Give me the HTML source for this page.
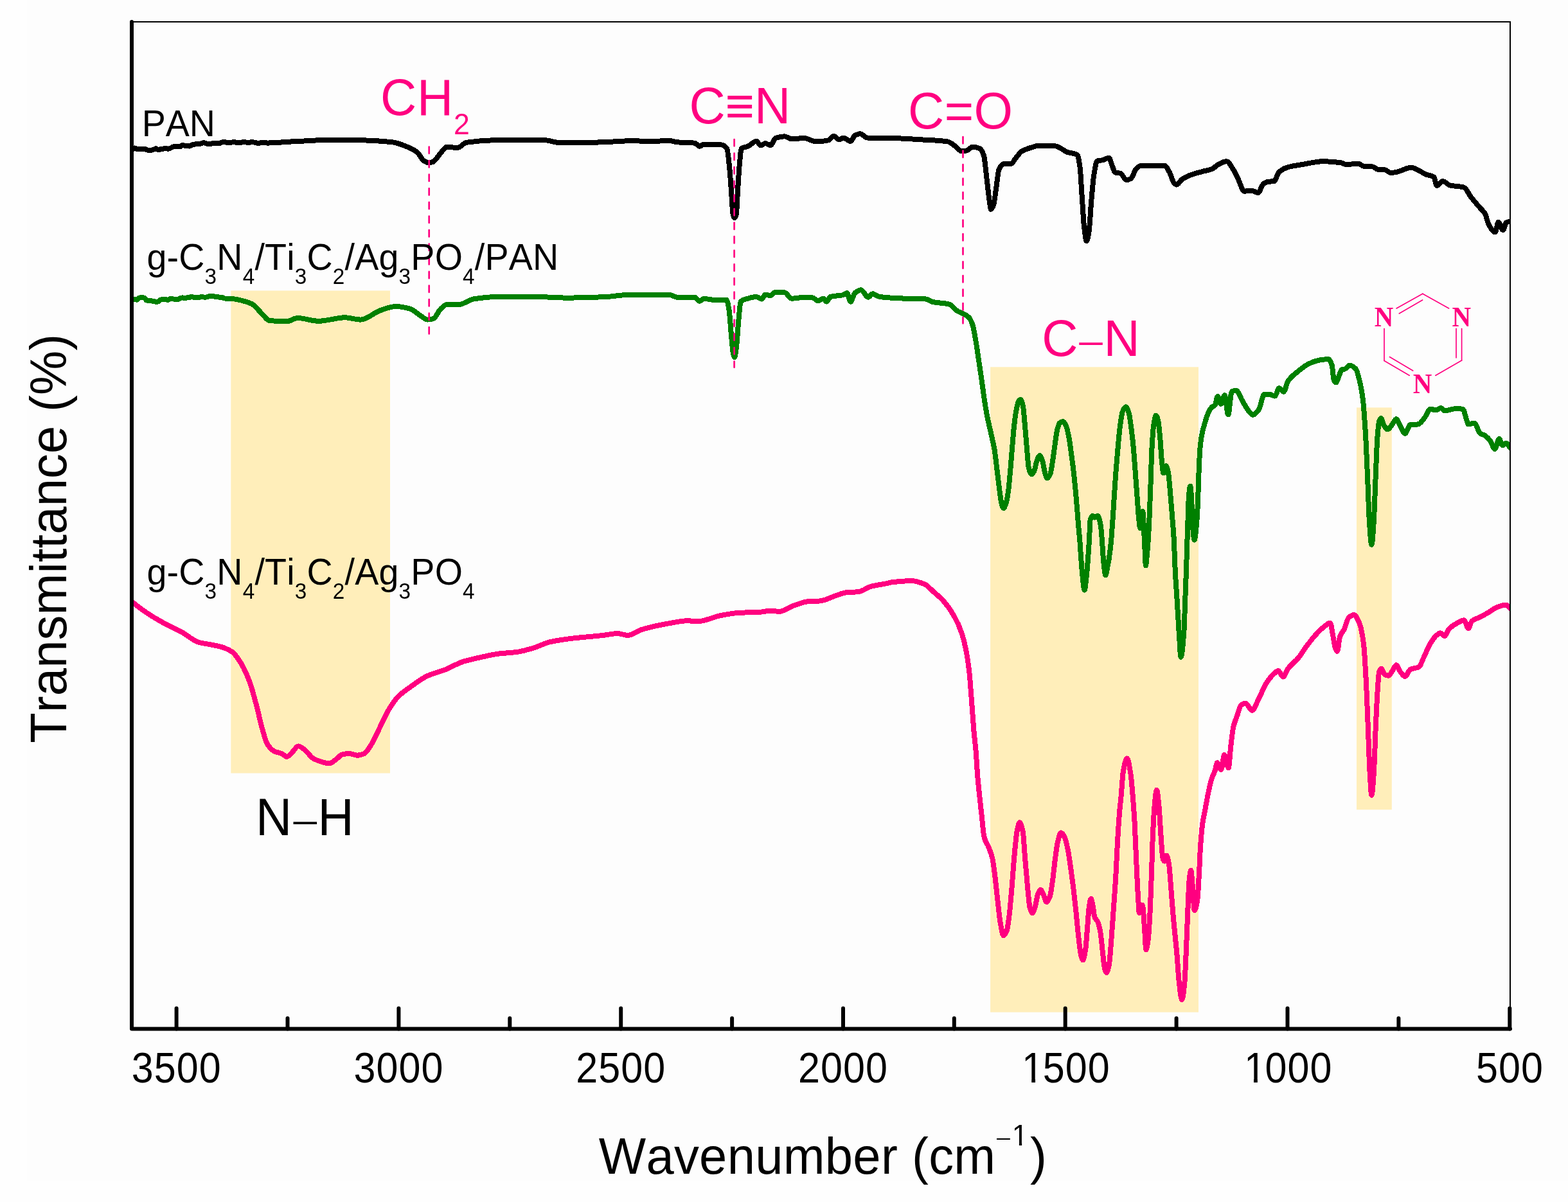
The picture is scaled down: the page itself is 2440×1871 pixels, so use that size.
<!DOCTYPE html>
<html lang="en">
<head>
<meta charset="utf-8">
<title>FTIR spectra</title>
<style>
html,body{margin:0;padding:0;background:#fefefe;}
body{width:2440px;height:1871px;overflow:hidden;}
svg{display:block;}
text{font-family:"Liberation Sans",Arial,Helvetica,sans-serif;font-kerning:none;font-variant-ligatures:none;white-space:pre;}
.ser{font-family:"Liberation Serif","Times New Roman",serif;font-weight:bold;}
.dash{font-family:"Liberation Serif","Times New Roman",serif;}
</style>
</head>
<body>
<svg width="2440" height="1871" viewBox="0 0 2440 1871" role="img" aria-label="FTIR transmittance spectra of PAN, g-C3N4/Ti3C2/Ag3PO4/PAN and g-C3N4/Ti3C2/Ag3PO4">
<rect x="0" y="0" width="2440" height="1871" fill="#fefefe"/>
<rect x="42" y="0" width="2398" height="1838" fill="#fdfdfd"/>
<g id="bands" fill="#ffeeba">
<rect x="359.3" y="452.4" width="247.7" height="751.1"/>
<rect x="1541.1" y="571.3" width="323.9" height="1004.3"/>
<rect x="2111.0" y="634.4" width="54.8" height="625.9"/>
</g>
<clipPath id="plot"><rect x="204" y="30" width="2147" height="1575"/></clipPath>
<g id="curves" clip-path="url(#plot)" fill="none" stroke-width="8.0" stroke-linejoin="round" stroke-linecap="butt" shape-rendering="crispEdges">
<path stroke="#000000" d="M205.5 233.4C205.7 233.3 205.8 233.2 206.0 233.1C207.2 232.4 208.5 230.4 209.7 230.4C210.9 230.4 212.2 232.2 213.4 232.2C214.6 232.2 215.9 232.2 217.1 232.2C218.3 232.2 219.6 232.5 220.8 232.5C222.0 232.5 223.3 231.7 224.5 231.7C225.7 231.7 227.0 232.4 228.2 232.9C229.4 233.3 230.7 234.5 231.9 234.5C233.1 234.5 234.4 234.2 235.6 233.9C236.8 233.7 238.1 233.0 239.3 232.5C240.5 232.1 241.8 231.3 243.0 231.3C244.2 231.3 245.5 233.3 246.7 233.3C247.9 233.3 249.2 232.2 250.4 232.0C251.6 231.8 252.9 231.8 254.1 231.6C255.3 231.4 256.6 230.5 257.8 230.5C259.0 230.5 260.3 231.7 261.5 231.7C262.7 231.7 264.0 231.1 265.2 230.7C266.4 230.3 267.7 229.1 268.9 228.7C270.1 228.3 271.4 227.9 272.6 227.8C273.8 227.7 275.1 227.7 276.3 227.7C277.5 227.7 278.8 228.3 280.0 228.3C281.2 228.3 282.5 226.2 283.7 226.2C284.9 226.2 286.2 226.6 287.4 226.6C288.6 226.6 289.9 226.6 291.1 226.6C292.3 226.6 293.6 227.6 294.8 227.6C296.0 227.6 297.3 226.0 298.5 225.6C299.7 225.2 301.0 224.8 302.2 224.7C303.4 224.5 304.7 224.4 305.9 224.4C307.1 224.3 308.4 224.3 309.6 224.2C310.8 224.1 312.1 223.8 313.3 223.4C314.5 223.1 315.8 222.1 317.0 222.1C318.2 222.1 319.5 223.3 320.7 223.4C321.9 223.6 323.2 223.6 324.4 223.7C325.6 223.8 326.9 224.1 328.1 224.1C329.3 224.1 330.6 222.5 331.8 222.5C333.0 222.5 334.3 223.2 335.5 223.2C336.7 223.2 338.0 223.2 339.2 223.1C340.4 223.0 341.7 222.9 342.9 222.6C344.1 222.4 345.4 221.3 346.6 221.2C347.8 221.1 349.1 221.1 350.3 221.1C351.5 221.1 352.8 222.1 354.0 222.1C355.2 222.1 356.5 221.7 357.7 221.6C358.9 221.5 360.2 221.5 361.4 221.5C362.6 221.4 363.9 221.0 365.1 221.0C366.3 221.0 367.6 222.5 368.8 222.5C370.0 222.5 371.3 222.1 372.5 222.0C373.7 221.8 375.0 221.7 376.2 221.6C377.4 221.4 378.7 220.9 379.9 220.9C381.1 220.9 382.4 221.6 383.6 221.6C384.8 221.7 386.1 221.8 387.3 221.8C388.5 221.8 389.8 221.3 391.0 221.3C392.2 221.3 393.5 221.4 394.7 221.5C395.9 221.7 397.2 221.8 398.4 222.1C399.6 222.3 400.9 223.1 402.1 223.1C403.3 223.1 404.6 222.2 405.8 222.2C407.0 222.2 408.3 222.3 409.5 222.3C410.7 222.3 412.0 222.1 413.2 222.1C414.4 222.1 415.7 222.8 416.9 222.8C418.1 222.8 419.4 222.1 420.6 221.9C421.8 221.7 423.1 221.5 424.3 221.5C425.5 221.5 426.8 221.6 428.0 221.7C429.2 221.8 430.5 222.0 431.7 222.0C432.9 222.0 434.2 222.0 435.4 222.0C436.6 221.9 437.9 221.2 439.1 221.2C440.3 221.2 441.6 221.5 442.8 221.5C444.0 221.5 445.3 221.4 446.5 221.3C447.7 221.2 449.0 221.2 450.2 221.2C451.4 221.1 452.7 220.1 453.9 220.1C455.1 220.1 456.4 220.2 457.6 220.2C458.8 220.2 460.1 220.2 461.3 220.2C462.5 220.2 463.8 220.2 465.0 220.2C466.2 220.1 467.5 219.9 468.7 219.8C479.5 219.0 490.4 218.3 501.2 218.3C519.5 218.3 537.7 218.3 556.0 218.3C574.2 218.3 592.5 219.4 610.7 221.3C618.0 222.1 625.3 225.2 632.6 228.1C638.1 230.3 643.5 232.7 649.0 236.9C652.7 239.7 656.3 248.5 660.0 250.6C662.3 251.9 664.6 253.3 666.9 253.3C669.2 253.3 671.4 252.7 673.7 252.0C677.4 250.9 681.0 243.5 684.7 239.6C688.3 235.7 692.0 228.7 695.6 228.7C701.1 228.7 706.5 230.0 712.0 230.0C716.6 230.0 721.1 222.5 725.7 221.8C742.1 219.4 758.6 218.3 775.0 218.3C783.3 218.3 791.7 218.3 800.0 218.3C816.2 218.3 832.3 218.3 848.5 218.3C854.9 218.3 861.2 221.5 867.6 221.8C876.7 222.2 885.9 222.4 895.0 222.4C911.4 222.4 927.9 221.6 944.3 221.0C958.0 220.5 971.7 219.1 985.4 219.1C994.5 219.1 1003.7 220.5 1012.8 220.5C1021.9 220.5 1030.9 218.6 1040.0 218.6C1044.6 218.6 1049.2 220.9 1053.8 221.3C1062.9 222.1 1072.1 221.7 1081.2 222.7C1083.8 223.0 1086.3 227.9 1088.9 227.9C1090.9 227.9 1092.9 224.6 1094.9 224.6C1104.0 224.6 1113.2 224.8 1122.3 225.4C1125.3 225.6 1128.2 227.3 1131.2 231.4C1132.6 233.4 1134.1 250.0 1135.5 264.3C1136.5 274.3 1137.5 291.6 1138.5 305.4C1139.2 314.6 1139.8 330.3 1140.5 333.0C1141.4 336.5 1142.2 339.0 1143.1 339.0C1144.0 339.0 1144.9 336.6 1145.8 333.0C1146.6 329.7 1147.5 304.4 1148.3 291.7C1149.2 277.9 1150.1 262.5 1151.0 253.3C1151.9 243.7 1152.9 231.5 1153.8 230.9C1157.0 228.7 1160.2 229.3 1163.4 228.1C1167.9 226.3 1172.5 219.7 1177.0 219.7C1179.3 219.7 1181.6 226.5 1183.9 226.5C1186.2 226.5 1188.4 223.2 1190.7 223.2C1193.5 223.2 1196.2 226.0 1199.0 226.0C1201.7 226.0 1204.3 216.0 1207.0 215.0C1211.6 213.3 1216.3 212.3 1220.9 212.3C1224.5 212.3 1228.2 216.4 1231.8 216.4C1238.2 216.4 1244.6 215.0 1251.0 215.0C1257.3 215.0 1263.7 220.5 1270.0 220.5C1276.4 220.5 1282.9 219.7 1289.3 218.3C1292.0 217.7 1294.8 211.7 1297.5 211.7C1300.2 211.7 1303.0 217.2 1305.7 217.2C1308.0 217.2 1310.3 214.5 1312.6 214.5C1316.2 214.5 1319.9 219.9 1323.5 219.9C1325.8 219.9 1328.1 212.1 1330.4 210.9C1333.1 209.4 1335.9 208.2 1338.6 208.2C1342.3 208.2 1345.9 214.5 1349.6 214.5C1359.7 214.5 1369.9 214.5 1380.0 214.5C1387.9 214.5 1395.9 215.2 1403.8 215.6C1412.9 216.1 1422.1 216.6 1431.2 217.2C1445.8 218.2 1460.4 218.2 1475.0 220.5C1478.7 221.1 1482.3 224.8 1486.0 227.3C1489.6 229.8 1493.3 235.5 1496.9 235.5C1499.6 235.5 1502.3 234.9 1505.0 234.2C1507.8 233.5 1510.5 228.7 1513.3 228.7C1517.0 228.7 1520.6 229.5 1524.3 230.9C1526.5 231.8 1528.8 235.8 1531.0 242.4C1532.4 246.5 1533.8 263.8 1535.2 275.2C1536.6 286.6 1538.0 301.3 1539.4 310.8C1540.3 316.7 1541.1 325.9 1542.0 325.9C1543.4 325.9 1544.8 322.7 1546.2 319.0C1547.6 315.4 1548.9 300.8 1550.3 291.7C1551.7 282.6 1553.0 267.5 1554.4 264.3C1556.7 259.0 1559.0 255.5 1561.3 255.3C1565.4 254.9 1569.5 255.1 1573.6 254.7C1575.9 254.5 1578.1 249.2 1580.4 246.5C1583.6 242.7 1586.8 237.5 1590.0 235.5C1594.6 232.7 1599.1 231.4 1603.7 230.0C1608.3 228.6 1612.8 226.5 1617.4 226.5C1625.6 226.5 1633.8 226.8 1642.0 227.3C1648.4 227.7 1654.8 234.7 1661.2 236.9C1666.2 238.7 1671.3 237.9 1676.3 241.0C1677.7 241.8 1679.0 249.5 1680.4 258.8C1681.5 266.2 1682.6 289.9 1683.7 305.4C1684.9 321.9 1686.0 345.2 1687.2 354.7C1688.4 364.5 1689.6 375.2 1690.8 375.2C1692.1 375.2 1693.3 367.8 1694.6 360.1C1695.8 352.8 1697.0 327.2 1698.2 313.6C1699.6 298.1 1700.9 281.0 1702.3 272.5C1703.9 262.3 1705.6 251.2 1707.2 250.6C1710.1 249.6 1713.1 249.8 1716.0 249.2C1719.2 248.5 1722.4 245.7 1725.6 245.7C1727.4 245.7 1729.2 254.5 1731.0 258.8C1732.4 262.1 1733.7 267.9 1735.1 268.4C1737.9 269.4 1740.6 269.0 1743.4 269.8C1746.6 270.7 1749.8 280.2 1753.0 280.2C1755.3 280.2 1757.5 279.2 1759.8 278.0C1762.5 276.5 1765.3 265.6 1768.0 262.9C1770.7 260.2 1773.5 257.5 1776.2 257.5C1788.1 257.5 1799.9 257.5 1811.8 257.5C1814.5 257.5 1817.3 263.7 1820.0 268.4C1822.3 272.4 1824.6 282.5 1826.9 284.8C1828.3 286.2 1829.6 287.6 1831.0 287.6C1833.7 287.6 1836.5 281.3 1839.2 279.4C1844.9 275.5 1850.7 273.1 1856.4 271.1C1861.9 269.2 1867.4 268.0 1872.9 266.5C1877.4 265.3 1882.0 264.8 1886.5 262.9C1889.3 261.8 1892.0 258.1 1894.8 256.6C1899.4 254.2 1903.9 251.2 1908.5 251.2C1912.1 251.2 1915.8 258.8 1919.4 264.3C1922.1 268.5 1924.9 275.1 1927.6 280.7C1930.3 286.3 1933.1 297.7 1935.8 297.7C1939.5 297.7 1943.1 296.6 1946.8 296.6C1950.4 296.6 1954.1 299.9 1957.7 299.9C1960.5 299.9 1963.2 288.2 1966.0 286.2C1968.3 284.5 1970.5 283.2 1972.8 282.9C1976.0 282.4 1979.2 282.6 1982.4 282.1C1985.1 281.7 1987.9 270.0 1990.6 267.6C1995.2 263.6 1999.7 261.5 2004.3 260.2C2011.6 258.1 2018.9 257.3 2026.2 256.1C2037.1 254.3 2048.1 251.2 2059.0 251.2C2068.1 251.2 2077.3 252.0 2086.4 253.3C2089.2 253.7 2091.9 256.1 2094.7 256.1C2101.1 256.1 2107.4 254.7 2113.8 254.7C2116.5 254.7 2119.3 258.6 2122.0 258.8C2126.6 259.2 2131.1 259.0 2135.7 259.4C2138.5 259.6 2141.2 263.4 2144.0 263.7C2147.6 264.1 2151.3 263.9 2154.9 264.3C2158.1 264.6 2161.3 269.0 2164.5 269.0C2167.7 269.0 2170.8 268.2 2174.0 267.6C2181.3 266.2 2188.7 260.7 2196.0 260.7C2199.7 260.7 2203.3 263.1 2207.0 264.8C2210.6 266.4 2214.3 269.5 2217.9 271.1C2222.5 273.1 2227.0 272.5 2231.6 275.8C2233.0 276.8 2234.3 289.0 2235.7 289.0C2238.9 289.0 2242.1 282.1 2245.3 282.1C2248.9 282.1 2252.6 287.5 2256.2 288.4C2263.5 290.3 2270.8 289.5 2278.1 291.7C2281.7 292.8 2285.4 302.0 2289.0 306.7C2293.6 312.6 2298.2 317.8 2302.8 323.2C2305.5 326.4 2308.3 328.0 2311.0 332.7C2312.8 335.9 2314.7 345.9 2316.5 349.2C2320.0 355.4 2323.4 361.5 2326.9 361.5C2328.4 361.5 2330.0 345.9 2331.5 345.9C2334.0 345.9 2336.4 358.2 2338.9 358.2C2340.5 358.2 2342.2 347.2 2343.8 346.4C2345.6 345.5 2347.5 345.5 2349.3 345.0C2351.3 344.5 2353.3 344.0 2355.3 343.5"/>
<path stroke="#008000" d="M205.5 466.9C205.7 466.8 205.8 466.8 206.0 466.7C207.2 466.4 208.5 466.1 209.7 466.1C210.9 466.1 212.2 466.7 213.4 466.7C214.6 466.7 215.9 463.6 217.1 463.5C218.3 463.3 219.6 463.2 220.8 463.2C222.0 463.2 223.3 463.4 224.5 463.8C225.7 464.1 227.0 467.5 228.2 467.5C229.4 467.5 230.7 467.5 231.9 467.5C233.1 467.5 234.4 468.1 235.6 468.3C236.8 468.6 238.1 468.8 239.3 469.0C240.5 469.3 241.8 469.9 243.0 469.9C244.2 469.9 245.5 469.5 246.7 469.1C247.9 468.6 249.2 466.4 250.4 466.4C251.6 466.4 252.9 466.5 254.1 466.5C255.3 466.5 256.6 466.2 257.8 466.2C259.0 466.2 260.3 466.8 261.5 466.8C262.7 466.8 264.0 464.7 265.2 464.7C266.4 464.7 267.7 465.3 268.9 465.4C270.1 465.5 271.4 465.6 272.6 465.7C273.8 465.8 275.1 466.1 276.3 466.1C277.5 466.1 278.8 464.7 280.0 464.3C281.2 463.9 282.5 463.4 283.7 463.4C284.9 463.4 286.2 463.9 287.4 463.9C288.6 463.9 289.9 463.6 291.1 463.4C292.3 463.3 293.6 463.2 294.8 462.9C296.0 462.7 297.3 461.7 298.5 461.7C299.7 461.7 301.0 463.2 302.2 463.2C303.4 463.2 304.7 463.2 305.9 463.2C307.1 463.2 308.4 463.2 309.6 463.2C310.8 463.2 312.1 462.1 313.3 462.1C314.5 462.1 315.8 462.5 317.0 462.5C318.2 462.5 319.5 462.5 320.7 462.5C321.9 462.5 323.2 461.9 324.4 461.6C325.6 461.4 326.9 460.9 328.1 460.9C329.3 460.9 330.6 460.8 331.8 460.8C333.0 460.8 334.3 462.3 335.5 462.3C336.7 462.3 338.0 462.3 339.2 462.3C340.4 462.3 341.7 462.8 342.9 463.0C344.1 463.1 345.4 463.1 346.6 463.3C347.8 463.5 349.1 464.6 350.3 464.6C351.5 464.6 352.8 464.6 354.0 464.6C355.2 464.6 356.5 464.7 357.7 464.7C361.7 464.8 365.8 465.6 369.8 466.4C377.1 467.8 384.4 469.6 391.7 473.0C397.1 475.6 402.6 483.7 408.0 488.8C411.7 492.3 415.3 498.6 419.0 499.0C428.1 499.9 437.3 500.3 446.4 500.3C451.9 500.3 457.4 495.0 462.9 495.0C473.8 495.0 484.8 499.8 495.7 499.8C509.4 499.8 523.1 494.3 536.8 494.3C545.0 494.3 553.2 497.6 561.4 497.6C571.5 497.6 581.5 486.6 591.6 483.3C599.7 480.6 607.9 477.0 616.0 477.0C623.3 477.0 630.7 478.6 638.0 480.6C643.5 482.1 649.0 488.3 654.5 491.6C658.2 493.8 661.8 497.6 665.5 497.6C668.7 497.6 671.8 496.8 675.0 495.7C678.2 494.6 681.5 485.2 684.7 482.0C688.3 478.4 692.0 473.8 695.6 473.8C702.0 473.8 708.4 473.8 714.8 473.8C722.1 473.8 729.4 466.6 736.7 465.5C749.5 463.5 762.2 462.0 775.0 462.0C794.9 462.0 814.9 462.0 834.8 462.0C850.3 462.0 865.8 463.6 881.3 463.6C902.3 463.6 923.3 462.9 944.3 462.0C953.4 461.6 962.6 459.5 971.7 459.3C994.5 458.9 1017.2 458.7 1040.0 458.7C1045.5 458.7 1051.1 463.4 1056.6 463.4C1064.8 463.4 1073.0 462.8 1081.2 462.8C1083.8 462.8 1086.3 468.8 1088.9 468.8C1090.9 468.8 1092.9 465.0 1094.9 465.0C1102.2 465.0 1109.5 467.5 1116.8 467.5C1121.4 467.5 1125.9 466.9 1130.5 466.9C1131.9 466.9 1133.2 475.1 1134.6 483.3C1135.8 490.5 1137.0 512.0 1138.2 524.4C1139.1 533.7 1140.0 546.3 1140.9 550.0C1141.6 553.0 1142.4 556.0 1143.1 556.0C1144.1 556.0 1145.0 547.3 1146.0 540.0C1147.2 531.2 1148.3 508.9 1149.5 497.0C1150.5 486.4 1151.6 470.8 1152.6 469.7C1156.2 465.9 1159.8 465.7 1163.4 464.7C1167.9 463.4 1172.5 462.0 1177.0 462.0C1179.8 462.0 1182.5 465.6 1185.3 465.6C1187.1 465.6 1188.9 458.7 1190.7 458.7C1193.5 458.7 1196.2 460.0 1199.0 460.0C1201.7 460.0 1204.3 454.6 1207.0 454.6C1211.6 454.6 1216.3 454.8 1220.9 455.2C1224.5 455.5 1228.2 464.7 1231.8 464.7C1238.2 464.7 1244.6 462.8 1251.0 462.8C1255.6 462.8 1260.1 463.0 1264.7 463.4C1267.4 463.6 1270.2 468.3 1272.9 468.3C1275.6 468.3 1278.3 464.7 1281.0 464.7C1282.9 464.7 1284.7 469.7 1286.6 469.7C1288.4 469.7 1290.2 462.5 1292.0 462.0C1298.4 460.1 1304.8 460.8 1311.2 459.3C1313.5 458.8 1315.7 456.0 1318.0 456.0C1319.8 456.0 1321.7 469.7 1323.5 469.7C1325.8 469.7 1328.1 457.9 1330.4 456.0C1333.6 453.4 1336.8 451.3 1340.0 451.3C1343.6 451.3 1347.3 462.8 1350.9 462.8C1353.2 462.8 1355.5 457.3 1357.8 457.3C1361.4 457.3 1365.1 461.5 1368.7 462.0C1382.2 463.8 1395.8 464.2 1409.3 464.7C1420.2 465.1 1431.1 464.9 1442.0 465.6C1444.8 465.8 1447.6 469.0 1450.4 469.7C1459.5 472.0 1468.6 471.2 1477.7 473.8C1481.4 474.8 1485.0 480.7 1488.7 483.3C1495.1 487.8 1501.5 487.9 1507.9 494.3C1509.7 496.1 1511.5 500.1 1513.3 505.3C1515.1 510.6 1517.0 522.1 1518.8 532.6C1520.2 540.4 1521.5 550.9 1522.9 560.0C1524.4 570.0 1525.9 579.5 1527.4 590.0C1528.6 598.7 1529.9 609.1 1531.1 617.4C1532.6 627.5 1534.1 636.9 1535.6 644.8C1537.7 656.0 1539.9 664.3 1542.0 674.1C1543.8 682.5 1545.7 688.8 1547.5 699.6C1549.0 708.7 1550.6 723.9 1552.1 736.2C1553.3 745.8 1554.5 756.8 1555.7 765.4C1556.6 772.1 1557.6 780.4 1558.5 783.7C1559.5 787.3 1560.6 791.0 1561.6 791.0C1562.9 791.0 1564.1 787.3 1565.4 783.7C1566.7 779.9 1568.1 771.6 1569.4 761.8C1570.3 755.0 1571.3 743.0 1572.2 732.5C1573.1 722.4 1574.0 710.4 1574.9 699.6C1575.8 688.4 1576.8 675.4 1577.7 666.7C1578.9 655.5 1580.1 645.5 1581.3 639.3C1582.5 632.9 1583.8 626.4 1585.0 624.7C1586.1 623.2 1587.2 622.0 1588.3 622.0C1589.5 622.0 1590.7 626.7 1591.9 632.0C1592.9 636.6 1594.0 651.9 1595.0 663.1C1596.0 674.3 1597.1 688.2 1598.1 699.6C1599.0 709.9 1600.0 725.5 1600.9 728.9C1602.5 734.5 1604.0 738.4 1605.6 738.4C1606.9 738.4 1608.3 735.4 1609.6 732.5C1610.8 729.8 1612.1 721.1 1613.3 717.9C1614.8 713.9 1616.4 709.1 1617.9 709.1C1619.4 709.1 1620.9 713.6 1622.4 717.9C1623.6 721.4 1624.9 732.4 1626.1 736.2C1627.3 739.9 1628.5 744.4 1629.7 744.4C1631.2 744.4 1632.8 741.5 1634.3 738.0C1635.5 735.2 1636.8 725.5 1638.0 717.9C1639.2 710.5 1640.4 700.4 1641.6 692.3C1642.8 684.0 1644.1 673.4 1645.3 668.6C1646.5 663.9 1647.7 659.5 1648.9 658.5C1650.6 657.1 1652.2 656.1 1653.9 656.1C1655.6 656.1 1657.3 659.6 1659.0 663.1C1660.5 666.2 1662.0 673.7 1663.5 681.4C1664.7 687.8 1666.0 697.9 1667.2 707.0C1668.4 716.1 1669.7 725.2 1670.9 736.2C1672.1 746.9 1673.3 759.3 1674.5 772.7C1675.7 786.4 1677.0 804.3 1678.2 818.4C1678.9 826.0 1679.5 831.7 1680.2 840.0C1680.8 847.4 1681.4 857.9 1682.0 866.0C1682.8 876.4 1683.5 887.9 1684.3 895.0C1685.4 905.2 1686.5 918.6 1687.6 918.6C1688.7 918.6 1689.8 905.0 1690.9 895.0C1691.7 887.7 1692.5 876.9 1693.3 866.0C1693.9 858.3 1694.4 849.7 1695.0 840.0C1695.5 830.9 1696.1 811.3 1696.6 809.3C1697.8 805.0 1698.9 802.9 1700.1 802.9C1701.3 802.9 1702.5 805.6 1703.7 805.6C1705.2 805.6 1706.8 802.9 1708.3 802.9C1709.8 802.9 1711.4 809.8 1712.9 818.4C1713.5 822.0 1714.2 832.2 1714.8 840.0C1715.7 850.7 1716.5 867.9 1717.4 875.7C1718.4 884.7 1719.4 895.5 1720.4 895.5C1721.4 895.5 1722.5 887.0 1723.5 882.0C1724.2 878.4 1725.0 874.7 1725.7 870.0C1726.7 863.3 1727.8 855.4 1728.8 845.0C1729.9 833.9 1731.0 815.9 1732.1 800.1C1733.3 782.9 1734.5 761.7 1735.7 745.3C1736.9 728.5 1738.2 713.3 1739.4 699.6C1740.6 686.2 1741.8 672.1 1743.0 663.1C1744.2 653.9 1745.5 644.4 1746.7 641.2C1748.3 636.9 1750.0 633.3 1751.6 633.3C1753.3 633.3 1755.0 637.9 1756.7 643.0C1757.9 646.7 1759.2 657.4 1760.4 666.7C1761.6 675.7 1762.8 686.6 1764.0 699.6C1764.9 709.7 1765.9 723.8 1766.8 736.2C1767.7 748.2 1768.6 760.7 1769.5 772.7C1770.4 785.1 1771.4 800.9 1772.3 809.3C1772.9 814.7 1773.5 822.1 1774.1 822.1C1775.4 822.1 1776.8 795.6 1778.1 795.6C1778.8 795.6 1779.6 816.9 1780.3 830.0C1780.6 835.9 1781.0 843.5 1781.3 850.0C1781.8 860.4 1782.4 880.5 1782.9 880.5C1783.7 880.5 1784.4 868.1 1785.2 860.0C1785.7 854.4 1786.3 848.1 1786.8 840.0C1787.3 831.9 1787.9 821.0 1788.4 809.3C1789.1 793.9 1789.8 773.7 1790.5 754.5C1791.1 737.1 1791.8 711.5 1792.4 699.6C1793.3 682.7 1794.2 669.3 1795.1 663.1C1796.3 654.6 1797.6 646.6 1798.8 646.6C1800.0 646.6 1801.2 650.9 1802.4 655.8C1803.3 659.6 1804.3 671.2 1805.2 681.4C1806.1 691.2 1807.0 709.2 1807.9 717.9C1808.7 725.7 1809.5 736.2 1810.3 736.2C1811.8 736.2 1813.2 725.2 1814.7 725.2C1815.8 725.2 1816.9 730.7 1818.0 736.2C1819.2 742.2 1820.4 759.3 1821.6 772.7C1822.8 786.4 1824.1 801.8 1825.3 818.4C1825.8 825.1 1826.3 831.0 1826.8 840.0C1827.4 851.5 1828.1 875.1 1828.7 887.6C1829.7 907.4 1830.7 919.0 1831.7 935.2C1832.7 950.8 1833.6 968.7 1834.6 982.9C1835.6 997.6 1836.6 1022.8 1837.6 1022.8C1839.2 1022.8 1840.8 1004.9 1842.4 982.9C1843.0 974.7 1843.6 951.1 1844.2 935.2C1844.8 919.3 1845.4 905.0 1846.0 887.6C1846.5 873.1 1847.0 855.4 1847.5 840.0C1847.8 829.7 1848.2 819.4 1848.5 810.0C1849.0 796.8 1849.4 778.0 1849.9 772.7C1850.7 763.6 1851.5 756.5 1852.3 756.5C1853.2 756.5 1854.0 776.9 1854.9 791.0C1855.5 800.8 1856.1 821.2 1856.7 827.6C1857.3 834.0 1857.9 840.5 1858.5 840.5C1859.6 840.5 1860.7 829.2 1861.8 818.4C1862.5 811.2 1863.3 798.0 1864.0 781.9C1864.5 771.0 1865.0 748.5 1865.5 736.2C1866.1 721.5 1866.7 706.8 1867.3 699.6C1868.2 688.9 1869.1 682.7 1870.0 677.7C1871.5 669.3 1873.1 664.6 1874.6 659.4C1876.4 653.1 1878.3 646.9 1880.1 643.0C1881.9 639.1 1883.8 635.7 1885.6 633.9C1887.4 632.2 1889.2 632.4 1891.0 630.2C1892.2 628.7 1893.5 617.0 1894.7 617.0C1896.4 617.0 1898.0 628.9 1899.7 628.9C1901.7 628.9 1903.7 615.2 1905.7 615.2C1907.5 615.2 1909.4 645.4 1911.2 645.4C1913.0 645.4 1914.9 611.0 1916.7 609.8C1919.0 608.4 1921.2 607.6 1923.5 607.6C1926.7 607.6 1929.9 618.2 1933.1 623.5C1935.8 628.0 1938.6 633.7 1941.3 637.2C1944.0 640.7 1946.8 645.9 1949.5 645.9C1952.7 645.9 1955.9 641.7 1959.1 637.2C1961.8 633.4 1964.6 613.9 1967.3 613.9C1970.0 613.9 1972.8 613.9 1975.5 613.9C1978.3 613.9 1981.0 616.6 1983.8 616.6C1986.1 616.6 1988.3 604.3 1990.6 604.3C1992.9 604.3 1995.2 609.8 1997.5 609.8C1999.8 609.8 2002.0 596.7 2004.3 593.3C2008.9 586.5 2013.4 583.4 2018.0 579.6C2024.4 574.2 2030.8 568.9 2037.2 566.0C2042.7 563.5 2048.1 561.3 2053.6 560.5C2058.2 559.8 2062.7 559.1 2067.3 559.1C2069.1 559.1 2071.0 563.0 2072.8 568.7C2073.7 571.5 2074.6 588.3 2075.5 590.6C2076.6 593.4 2077.7 595.5 2078.8 595.5C2080.4 595.5 2082.1 588.7 2083.7 585.1C2085.1 582.1 2086.4 576.1 2087.8 575.5C2089.6 574.7 2091.5 574.9 2093.3 574.2C2095.6 573.4 2097.8 568.7 2100.1 568.7C2103.3 568.7 2106.5 570.9 2109.7 574.2C2111.5 576.1 2113.4 583.5 2115.2 590.6C2117.0 597.7 2118.9 606.4 2120.7 620.7C2122.1 631.4 2123.4 650.8 2124.8 672.8C2125.9 690.0 2126.9 716.8 2128.0 741.2C2128.9 762.5 2129.9 795.6 2130.8 809.7C2132.0 827.8 2133.2 848.0 2134.4 848.0C2135.6 848.0 2136.7 827.6 2137.9 809.7C2138.8 795.4 2139.8 763.0 2140.7 741.2C2141.6 720.2 2142.5 692.7 2143.4 681.0C2144.3 669.3 2145.2 659.2 2146.1 656.3C2147.0 653.3 2148.0 650.8 2148.9 650.8C2150.4 650.8 2152.0 659.3 2153.5 661.8C2155.3 664.8 2157.2 668.6 2159.0 668.6C2161.3 668.6 2163.5 664.4 2165.8 661.8C2168.1 659.1 2170.4 652.2 2172.7 652.2C2174.5 652.2 2176.4 658.8 2178.2 661.8C2180.9 666.3 2183.7 674.7 2186.4 674.7C2189.1 674.7 2191.9 661.6 2194.6 661.2C2198.7 660.7 2202.8 660.9 2206.9 660.4C2210.1 660.0 2213.3 654.6 2216.5 650.8C2219.7 647.0 2222.9 636.6 2226.1 636.6C2228.8 636.6 2231.6 638.5 2234.3 638.5C2236.9 638.5 2239.4 635.0 2242.0 635.0C2244.0 635.0 2246.0 639.3 2248.0 639.3C2254.4 639.3 2260.8 635.8 2267.2 635.8C2270.4 635.8 2273.5 636.2 2276.7 637.2C2278.3 637.7 2279.8 646.5 2281.4 650.8C2282.6 654.1 2283.8 660.4 2285.0 660.4C2288.2 660.4 2291.3 658.5 2294.5 658.5C2297.3 658.5 2300.0 671.9 2302.8 674.1C2305.5 676.3 2308.3 676.4 2311.0 678.2C2313.7 680.0 2316.5 682.8 2319.2 686.4C2321.5 689.4 2323.7 698.8 2326.0 698.8C2328.3 698.8 2330.6 683.2 2332.9 683.2C2334.7 683.2 2336.6 693.3 2338.4 693.3C2340.2 693.3 2342.0 689.7 2343.8 689.7C2345.6 689.7 2347.5 693.9 2349.3 696.0C2351.3 698.3 2353.3 700.6 2355.3 702.9"/>
<path stroke="#ff0080" d="M205.5 936.9C212.8 942.4 220.1 948.4 227.4 953.3C236.5 959.4 245.7 964.8 254.8 969.8C263.9 974.8 273.0 978.5 282.1 983.5C291.2 988.5 300.4 997.3 309.5 999.9C316.8 1001.9 324.1 1002.4 331.4 1004.0C336.9 1005.2 342.4 1006.3 347.9 1008.1C352.5 1009.6 357.0 1011.7 361.6 1015.0C366.1 1018.3 370.7 1025.3 375.2 1032.7C379.8 1040.2 384.4 1050.4 389.0 1062.9C392.6 1072.8 396.3 1087.5 399.9 1101.2C402.6 1111.4 405.3 1124.7 408.0 1134.0C410.8 1143.5 413.5 1154.5 416.3 1158.7C420.0 1164.3 423.6 1168.0 427.3 1169.7C430.9 1171.4 434.6 1171.5 438.2 1173.0C440.9 1174.1 443.7 1177.9 446.4 1177.9C449.2 1177.9 451.9 1173.5 454.7 1171.0C457.9 1168.1 461.0 1161.4 464.2 1161.4C467.4 1161.4 470.6 1164.6 473.8 1166.9C478.4 1170.2 482.9 1178.0 487.5 1180.6C492.1 1183.2 496.6 1184.9 501.2 1186.1C504.9 1187.1 508.5 1188.3 512.2 1188.3C515.8 1188.3 519.5 1184.4 523.1 1182.0C526.3 1179.8 529.5 1175.0 532.7 1174.3C536.4 1173.5 540.0 1173.0 543.7 1173.0C547.8 1173.0 551.9 1175.7 556.0 1175.7C559.6 1175.7 563.3 1174.5 566.9 1173.0C570.6 1171.5 574.2 1164.4 577.9 1158.7C582.5 1151.6 587.0 1140.4 591.6 1131.3C596.2 1122.2 600.7 1111.5 605.3 1104.0C609.9 1096.5 614.4 1089.5 619.0 1084.8C625.4 1078.3 631.7 1074.3 638.1 1069.7C647.2 1063.1 656.4 1056.1 665.5 1051.9C674.6 1047.7 683.8 1045.9 692.9 1042.3C702.0 1038.7 711.2 1032.9 720.3 1030.0C729.4 1027.1 738.6 1025.2 747.7 1023.2C756.8 1021.2 765.9 1018.9 775.0 1017.7C784.9 1016.4 794.7 1016.3 804.6 1014.9C812.8 1013.8 821.1 1011.3 829.3 1008.9C838.4 1006.3 847.6 1001.0 856.7 999.0C867.6 996.6 878.6 995.2 889.5 993.8C905.9 991.8 922.4 990.8 938.8 988.9C946.1 988.1 953.4 986.1 960.7 986.1C966.2 986.1 971.7 988.9 977.2 988.9C984.5 988.9 991.7 982.0 999.0 979.8C1012.7 975.7 1026.3 972.9 1040.0 970.5C1050.1 968.8 1060.2 966.2 1070.3 966.2C1074.9 966.2 1079.4 967.5 1084.0 967.5C1096.8 967.5 1109.5 960.3 1122.3 957.9C1130.5 956.4 1138.7 954.7 1146.9 954.1C1159.7 953.2 1172.5 953.4 1185.3 952.5C1189.9 952.2 1194.4 950.5 1199.0 950.5C1203.5 950.5 1208.1 951.9 1212.6 951.9C1219.9 951.9 1227.3 945.3 1234.6 942.9C1242.8 940.2 1251.0 936.4 1259.2 936.0C1264.7 935.7 1270.1 935.8 1275.6 935.5C1283.8 935.1 1292.1 929.9 1300.3 927.3C1305.8 925.6 1311.2 922.8 1316.7 922.3C1323.1 921.7 1329.5 921.8 1335.9 921.2C1342.3 920.6 1348.6 914.7 1355.0 913.0C1363.3 910.7 1371.7 909.9 1380.0 908.1C1382.5 907.6 1384.9 906.7 1387.4 906.4C1397.9 905.1 1408.4 904.2 1418.9 904.2C1425.7 904.2 1432.6 906.8 1439.4 909.7C1443.6 911.5 1447.8 916.8 1452.0 920.5C1457.5 925.4 1463.1 929.7 1468.6 936.0C1473.9 942.0 1479.3 949.4 1484.6 958.8C1488.4 965.5 1492.2 973.0 1496.0 984.0C1498.7 991.7 1501.3 1002.0 1504.0 1016.0C1505.5 1023.9 1507.0 1034.3 1508.5 1048.0C1509.7 1058.7 1510.8 1076.3 1512.0 1091.4C1513.1 1106.0 1514.3 1124.0 1515.4 1137.1C1516.5 1150.2 1517.7 1157.6 1518.8 1171.4C1519.6 1180.7 1520.3 1196.2 1521.1 1205.7C1522.2 1219.3 1523.3 1229.4 1524.4 1240.0C1525.5 1250.3 1526.5 1259.5 1527.6 1269.0C1528.9 1280.6 1530.2 1298.1 1531.5 1303.0C1533.8 1311.7 1536.1 1312.6 1538.4 1318.5C1540.4 1323.7 1542.4 1327.9 1544.4 1336.6C1545.7 1342.4 1547.1 1354.1 1548.4 1364.7C1549.7 1375.3 1551.1 1389.4 1552.4 1401.0C1553.8 1412.9 1555.1 1427.5 1556.5 1435.2C1558.2 1444.6 1559.8 1456.3 1561.5 1456.3C1563.2 1456.3 1564.8 1453.2 1566.5 1449.3C1567.8 1446.2 1569.2 1435.4 1570.5 1425.1C1571.9 1414.5 1573.2 1396.7 1574.6 1380.8C1575.9 1365.3 1577.3 1344.5 1578.6 1330.5C1579.9 1316.5 1581.3 1301.1 1582.6 1294.3C1583.9 1287.5 1585.3 1280.2 1586.6 1280.2C1588.3 1280.2 1590.0 1286.2 1591.7 1294.3C1592.7 1299.1 1593.7 1318.7 1594.7 1330.5C1596.0 1346.3 1597.4 1363.3 1598.7 1376.8C1600.0 1390.3 1601.4 1408.3 1602.7 1413.0C1603.9 1417.3 1605.2 1421.1 1606.4 1421.1C1607.9 1421.1 1609.3 1415.5 1610.8 1411.0C1612.1 1406.9 1613.5 1396.4 1614.8 1392.9C1616.3 1389.1 1617.7 1384.9 1619.2 1384.9C1620.8 1384.9 1622.3 1389.8 1623.9 1392.9C1625.4 1396.0 1627.0 1404.0 1628.5 1404.0C1630.3 1404.0 1632.1 1399.7 1633.9 1394.9C1635.3 1391.2 1636.6 1380.3 1638.0 1370.8C1639.3 1361.5 1640.7 1346.5 1642.0 1336.6C1643.3 1326.7 1644.7 1315.7 1646.0 1310.4C1647.7 1303.7 1649.3 1296.3 1651.0 1296.3C1653.0 1296.3 1655.1 1300.3 1657.1 1304.4C1658.8 1307.8 1660.4 1316.1 1662.1 1324.5C1663.4 1331.2 1664.8 1341.4 1666.1 1350.7C1667.4 1360.0 1668.8 1370.0 1670.1 1380.8C1671.5 1391.9 1672.8 1404.2 1674.2 1417.1C1675.5 1429.7 1676.9 1445.8 1678.2 1457.3C1679.5 1468.8 1680.9 1482.9 1682.2 1487.5C1683.2 1491.0 1684.2 1494.5 1685.2 1494.5C1686.6 1494.5 1687.9 1486.1 1689.3 1477.4C1690.3 1471.0 1691.3 1453.0 1692.3 1441.2C1693.2 1430.9 1694.0 1416.5 1694.9 1411.0C1695.8 1405.1 1696.8 1398.9 1697.7 1398.9C1698.8 1398.9 1699.8 1405.8 1700.9 1411.0C1701.7 1414.9 1702.5 1424.9 1703.3 1427.1C1705.0 1431.8 1706.7 1431.3 1708.4 1435.2C1709.7 1438.3 1711.1 1443.8 1712.4 1451.3C1713.5 1457.6 1714.7 1471.8 1715.8 1481.4C1716.9 1490.5 1717.9 1503.9 1719.0 1507.6C1720.0 1510.9 1720.9 1514.0 1721.9 1514.0C1723.2 1514.0 1724.6 1508.1 1725.9 1501.6C1727.1 1495.7 1728.3 1476.2 1729.5 1461.3C1730.7 1446.4 1731.9 1428.3 1733.1 1411.0C1734.2 1394.7 1735.4 1380.0 1736.5 1360.7C1737.4 1345.3 1738.3 1322.2 1739.2 1307.0C1740.2 1289.6 1741.3 1274.1 1742.3 1262.0C1743.0 1253.4 1743.8 1247.8 1744.5 1240.0C1745.7 1227.6 1746.8 1206.4 1748.0 1200.0C1749.9 1189.5 1751.8 1180.4 1753.7 1180.4C1755.6 1180.4 1757.6 1192.8 1759.5 1205.0C1760.6 1211.9 1761.7 1226.6 1762.8 1240.0C1763.7 1251.4 1764.7 1263.7 1765.6 1280.0C1766.6 1298.1 1767.7 1329.1 1768.7 1350.7C1769.6 1368.8 1770.4 1387.5 1771.3 1401.0C1771.8 1408.8 1772.3 1421.1 1772.8 1421.1C1774.5 1421.1 1776.1 1409.0 1777.8 1409.0C1778.8 1409.0 1779.8 1428.9 1780.8 1441.2C1781.7 1451.9 1782.5 1478.4 1783.4 1478.4C1784.5 1478.4 1785.7 1470.0 1786.8 1461.3C1787.7 1454.4 1788.6 1438.0 1789.5 1421.1C1790.3 1406.1 1791.1 1382.7 1791.9 1360.7C1792.6 1342.4 1793.2 1315.3 1793.9 1300.4C1794.8 1281.0 1795.6 1264.2 1796.5 1255.0C1797.6 1242.9 1798.8 1229.6 1799.9 1229.6C1801.1 1229.6 1802.3 1243.3 1803.5 1255.0C1804.5 1264.7 1805.5 1287.2 1806.5 1300.4C1807.5 1314.0 1808.6 1333.7 1809.6 1336.6C1810.4 1338.9 1811.2 1340.6 1812.0 1340.6C1813.0 1340.6 1814.0 1331.5 1815.0 1331.5C1816.3 1331.5 1817.7 1337.6 1819.0 1344.6C1820.0 1350.0 1821.1 1368.3 1822.1 1380.8C1823.4 1396.9 1824.8 1416.1 1826.1 1431.1C1827.8 1449.8 1829.4 1462.7 1831.1 1481.4C1832.4 1496.4 1833.8 1521.1 1835.1 1531.8C1836.5 1542.8 1837.8 1555.9 1839.2 1555.9C1840.5 1555.9 1841.9 1544.5 1843.2 1531.8C1844.1 1523.5 1844.9 1500.4 1845.8 1481.4C1846.6 1463.9 1847.4 1439.4 1848.2 1421.1C1849.0 1402.8 1849.8 1378.5 1850.6 1370.8C1851.5 1362.5 1852.3 1354.7 1853.2 1354.7C1854.1 1354.7 1855.0 1370.8 1855.9 1380.8C1856.8 1391.1 1857.8 1417.1 1858.7 1417.1C1860.2 1417.1 1861.8 1410.3 1863.3 1401.0C1864.2 1395.7 1865.0 1376.0 1865.9 1360.7C1866.6 1349.0 1867.2 1330.4 1867.9 1320.5C1869.0 1303.7 1870.2 1290.3 1871.3 1282.0C1872.5 1272.9 1873.8 1268.6 1875.0 1262.0C1876.6 1253.6 1878.1 1244.5 1879.7 1237.0C1881.5 1228.2 1883.4 1219.0 1885.2 1213.2C1887.0 1207.4 1888.9 1204.9 1890.7 1199.5C1891.9 1196.1 1893.0 1187.2 1894.2 1187.2C1896.2 1187.2 1898.2 1198.2 1900.2 1198.2C1901.9 1198.2 1903.5 1174.9 1905.2 1174.9C1907.4 1174.9 1909.5 1195.4 1911.7 1195.4C1912.9 1195.4 1914.1 1171.2 1915.3 1161.2C1916.7 1149.8 1918.0 1137.0 1919.4 1131.1C1921.2 1123.2 1923.1 1119.8 1924.9 1114.7C1927.2 1108.4 1929.4 1098.1 1931.7 1096.9C1934.0 1095.7 1936.3 1094.9 1938.6 1094.9C1941.8 1094.9 1945.0 1105.9 1948.2 1105.9C1951.4 1105.9 1954.5 1095.9 1957.7 1090.0C1961.8 1082.3 1966.0 1070.4 1970.1 1064.0C1974.2 1057.7 1978.3 1052.5 1982.4 1048.9C1984.7 1046.9 1986.9 1044.0 1989.2 1044.0C1991.7 1044.0 1994.1 1053.6 1996.6 1053.6C1999.2 1053.6 2001.7 1044.1 2004.3 1040.7C2009.8 1033.5 2015.2 1030.4 2020.7 1023.7C2024.4 1019.2 2028.0 1012.8 2031.7 1007.9C2037.2 1000.5 2042.6 993.1 2048.1 987.3C2052.7 982.4 2057.2 977.8 2061.8 974.5C2064.5 972.5 2067.3 969.5 2070.0 969.5C2071.4 969.5 2072.7 981.9 2074.1 988.7C2075.3 994.7 2076.5 1004.7 2077.7 1007.9C2078.8 1010.9 2079.9 1013.9 2081.0 1013.9C2082.3 1013.9 2083.7 995.2 2085.0 991.4C2087.3 984.9 2089.6 983.9 2091.9 979.1C2094.2 974.3 2096.5 963.3 2098.8 961.3C2101.5 959.0 2104.3 957.2 2107.0 957.2C2109.7 957.2 2112.5 963.1 2115.2 969.5C2117.5 974.8 2119.7 985.0 2122.0 1002.4C2123.4 1012.9 2124.7 1039.2 2126.1 1065.4C2127.0 1083.3 2128.0 1110.6 2128.9 1133.8C2129.8 1156.2 2130.7 1187.0 2131.6 1202.3C2132.5 1218.1 2133.5 1237.9 2134.4 1237.9C2135.6 1237.9 2136.7 1219.3 2137.9 1202.3C2138.8 1188.7 2139.8 1154.5 2140.7 1133.8C2141.6 1113.8 2142.5 1092.7 2143.4 1079.0C2144.3 1065.3 2145.2 1048.9 2146.1 1046.2C2147.2 1042.9 2148.3 1040.7 2149.4 1040.7C2151.2 1040.7 2153.1 1049.5 2154.9 1050.3C2156.9 1051.1 2158.9 1051.7 2160.9 1051.7C2163.0 1051.7 2165.1 1046.4 2167.2 1043.5C2169.0 1040.9 2170.9 1035.2 2172.7 1035.2C2175.0 1035.2 2177.2 1043.4 2179.5 1046.2C2181.8 1049.0 2184.1 1053.0 2186.4 1053.0C2189.1 1053.0 2191.9 1043.5 2194.6 1042.1C2199.2 1039.7 2203.7 1040.6 2208.3 1038.0C2210.6 1036.7 2212.8 1029.0 2215.1 1024.3C2218.8 1016.7 2222.4 1006.8 2226.1 1001.0C2229.3 995.9 2232.5 991.2 2235.7 988.7C2237.5 987.2 2239.4 985.4 2241.2 985.4C2243.5 985.4 2245.7 990.0 2248.0 990.0C2250.3 990.0 2252.5 981.5 2254.8 979.1C2258.9 974.8 2263.1 972.3 2267.2 970.1C2270.8 968.1 2274.5 965.4 2278.1 965.4C2280.4 965.4 2282.7 978.3 2285.0 978.3C2286.8 978.3 2288.6 968.3 2290.4 966.8C2294.5 963.2 2298.7 962.9 2302.8 960.8C2307.4 958.4 2311.9 955.8 2316.5 953.1C2321.0 950.5 2325.6 946.5 2330.1 944.9C2334.7 943.3 2339.2 941.6 2343.8 941.6C2345.6 941.6 2347.5 944.7 2349.3 946.3C2351.3 948.0 2353.3 949.7 2355.3 951.4"/>
</g>
<g id="guides" stroke="#ff0080" stroke-width="2.7" stroke-linecap="round" stroke-dasharray="10.3 11.3" fill="none">
<line x1="667.7" y1="228.5" x2="667.7" y2="520.2"/>
<line x1="1142.6" y1="217.0" x2="1142.6" y2="571.8"/>
<line x1="1498.5" y1="213.0" x2="1498.5" y2="503.3"/>
</g>
<g id="axes" stroke="#000" fill="none" stroke-linecap="butt">
<line x1="202.0" y1="34.0" x2="2351.0" y2="34.0" stroke-width="2.0"/>
<line x1="2350.0" y1="34.0" x2="2350.0" y2="1601.5" stroke-width="2.0"/>
<path d="M205.0 34.0V1601.5H2350.0" stroke-width="6.0" stroke-linejoin="round" stroke-linecap="round"/>
<line x1="274.6" y1="1601.5" x2="274.6" y2="1569.5" stroke-width="6.0" stroke-linecap="round"/>
<line x1="620.4" y1="1601.5" x2="620.4" y2="1569.5" stroke-width="6.0" stroke-linecap="round"/>
<line x1="966.2" y1="1601.5" x2="966.2" y2="1569.5" stroke-width="6.0" stroke-linecap="round"/>
<line x1="1312.0" y1="1601.5" x2="1312.0" y2="1569.5" stroke-width="6.0" stroke-linecap="round"/>
<line x1="1657.7" y1="1601.5" x2="1657.7" y2="1569.5" stroke-width="6.0" stroke-linecap="round"/>
<line x1="2003.5" y1="1601.5" x2="2003.5" y2="1569.5" stroke-width="6.0" stroke-linecap="round"/>
<line x1="2349.3" y1="1601.5" x2="2349.3" y2="1569.5" stroke-width="6.0" stroke-linecap="round"/>
<line x1="447.5" y1="1601.5" x2="447.5" y2="1585.0" stroke-width="6.0" stroke-linecap="round"/>
<line x1="793.3" y1="1601.5" x2="793.3" y2="1585.0" stroke-width="6.0" stroke-linecap="round"/>
<line x1="1139.1" y1="1601.5" x2="1139.1" y2="1585.0" stroke-width="6.0" stroke-linecap="round"/>
<line x1="1484.8" y1="1601.5" x2="1484.8" y2="1585.0" stroke-width="6.0" stroke-linecap="round"/>
<line x1="1830.6" y1="1601.5" x2="1830.6" y2="1585.0" stroke-width="6.0" stroke-linecap="round"/>
<line x1="2176.4" y1="1601.5" x2="2176.4" y2="1585.0" stroke-width="6.0" stroke-linecap="round"/>
</g>
<g id="ticklabels" font-size="63.9">
<text transform="translate(204.7 1684.5) scale(0.955 1.030)" letter-spacing="1.11">3500</text>
<text transform="translate(550.5 1684.5) scale(0.955 1.030)" letter-spacing="1.11">3000</text>
<text transform="translate(896.3 1684.5) scale(0.955 1.030)" letter-spacing="1.11">2500</text>
<text transform="translate(1242.1 1684.5) scale(0.955 1.030)" letter-spacing="1.11">2000</text>
<clipPath id="ft1" clipPathUnits="userSpaceOnUse"><rect x="-20.00" y="-63.90" width="26.15" height="89.46"/><rect x="35.95" y="-63.90" width="130.65" height="89.46"/><rect x="5.15" y="-63.90" width="31.80" height="58.97"/><rect x="18.26" y="-5.93" width="6.08" height="6.99"/><rect x="5.15" y="1.50" width="31.80" height="24.06"/></clipPath>
<text transform="translate(1587.8 1684.5) scale(0.955 1.030)" letter-spacing="1.11" clip-path="url(#ft1)"><tspan dx="2.41">1</tspan><tspan dx="-2.41">500</tspan></text>
<clipPath id="ft2" clipPathUnits="userSpaceOnUse"><rect x="-20.00" y="-63.90" width="26.15" height="89.46"/><rect x="35.95" y="-63.90" width="130.65" height="89.46"/><rect x="5.15" y="-63.90" width="31.80" height="58.97"/><rect x="18.26" y="-5.93" width="6.08" height="6.99"/><rect x="5.15" y="1.50" width="31.80" height="24.06"/></clipPath>
<text transform="translate(1933.6 1684.5) scale(0.955 1.030)" letter-spacing="1.11" clip-path="url(#ft2)"><tspan dx="2.41">1</tspan><tspan dx="-2.41">000</tspan></text>
<text transform="translate(2296.9 1684.5) scale(0.955 1.030)" letter-spacing="1.11">500</text>
</g>
<g id="labels">
<clipPath id="ft3" clipPathUnits="userSpaceOnUse"><rect x="-20.00" y="-120.00" width="665.72" height="160.00"/><rect x="666.56" y="-120.00" width="93.44" height="160.00"/><rect x="644.72" y="-120.00" width="22.84" height="72.15"/><rect x="654.19" y="-48.85" width="4.26" height="5.49"/><rect x="644.72" y="-42.90" width="22.84" height="82.90"/></clipPath>
<text transform="translate(931.7 1827.0) scale(1 1.015)" font-size="77.8" letter-spacing="0.28" clip-path="url(#ft3)">Wavenumber (cm<tspan class="dash" x="619.6" y="-43.7" font-size="40.7" letter-spacing="0">–</tspan><tspan x="643.1" y="-43.7" font-size="44.7" letter-spacing="0">1</tspan><tspan x="671.3" y="0" letter-spacing="0">)</tspan></text>
<text transform="translate(103.3 838.2) rotate(-90) scale(1 1.015)" font-size="77.8" letter-spacing="0.10" text-anchor="middle">Transmittance (%)</text>
<text transform="translate(1621.2 553.8) scale(1 1.025)" font-size="77.8" fill="#ff0080">C<tspan class="dash" x="58.5" dy="-1.7" font-size="71.2">–</tspan><tspan x="96.2" dy="1.7">N</tspan></text>
<text transform="translate(398.0 1300.1) scale(1 1.045)" font-size="77.8">N<tspan class="dash" x="58.9" dy="-1.8" font-size="71.2">–</tspan><tspan x="96.6" dy="1.8">H</tspan></text>
<text transform="translate(220.7 211.9) scale(1.000 1.040)" font-size="55.6">PAN</text>
<text transform="translate(228.4 419.8) scale(1.000 1.030)" font-size="55.6" letter-spacing="0.20">g-C<tspan font-size="33.3" dy="21.4">3</tspan><tspan dy="-21.4">N</tspan><tspan font-size="33.3" dy="21.4">4</tspan><tspan dy="-21.4">/</tspan>Ti<tspan font-size="33.3" dy="21.4">3</tspan><tspan dy="-21.4">C</tspan><tspan font-size="33.3" dy="21.4">2</tspan><tspan dy="-21.4">/</tspan>Ag<tspan font-size="33.3" dy="21.4">3</tspan><tspan dy="-21.4">P</tspan>O<tspan font-size="33.3" dy="21.4">4</tspan><tspan dy="-21.4">/</tspan>PAN</text>
<text transform="translate(228.4 910.0) scale(1.000 1.030)" font-size="55.6" letter-spacing="0.20">g-C<tspan font-size="33.3" dy="21.4">3</tspan><tspan dy="-21.4">N</tspan><tspan font-size="33.3" dy="21.4">4</tspan><tspan dy="-21.4">/</tspan>Ti<tspan font-size="33.3" dy="21.4">3</tspan><tspan dy="-21.4">C</tspan><tspan font-size="33.3" dy="21.4">2</tspan><tspan dy="-21.4">/</tspan>Ag<tspan font-size="33.3" dy="21.4">3</tspan><tspan dy="-21.4">P</tspan>O<tspan font-size="33.3" dy="21.4">4</tspan></text>
<text transform="translate(592.0 179.0) scale(1.000 1.025)" font-size="77.8" fill="#ff0080" letter-spacing="0.80">CH<tspan font-size="44.7" dy="29.4">2</tspan></text>
<text transform="translate(1072.4 191.7) scale(1.000 1.025)" font-size="77.8" fill="#ff0080">C≡N</text>
<text transform="translate(1413.0 199.9) scale(1.000 1.025)" font-size="77.8" fill="#ff0080" letter-spacing="0.50">C=O</text>
</g>
<g id="triazine" stroke="#ff0080" stroke-width="1.7" fill="none" stroke-linecap="round">
<line x1="2213.8" y1="457.2" x2="2173.1" y2="480.0"/>
<line x1="2213.6" y1="466.9" x2="2177.3" y2="488.1"/>
<line x1="2213.8" y1="457.2" x2="2254.6" y2="480.0"/>
<line x1="2154.0" y1="511.5" x2="2154.0" y2="561.5"/>
<line x1="2154.0" y1="561.5" x2="2193.3" y2="584.4"/>
<line x1="2162.4" y1="555.6" x2="2198.7" y2="577.0"/>
<line x1="2274.6" y1="511.5" x2="2274.6" y2="561.0"/>
<line x1="2266.0" y1="511.5" x2="2266.0" y2="556.8"/>
<line x1="2274.6" y1="561.0" x2="2233.8" y2="584.4"/>
</g>
<g font-size="41.0" fill="#ff0080" text-anchor="middle">
<text class="ser" transform="translate(2153.6 508.0) scale(1 1.085)">N</text>
<text class="ser" transform="translate(2274.4 508.2) scale(1 1.085)">N</text>
<text class="ser" transform="translate(2213.5 612.2) scale(1 1.085)">N</text>
</g>
</svg>
</body>
</html>
